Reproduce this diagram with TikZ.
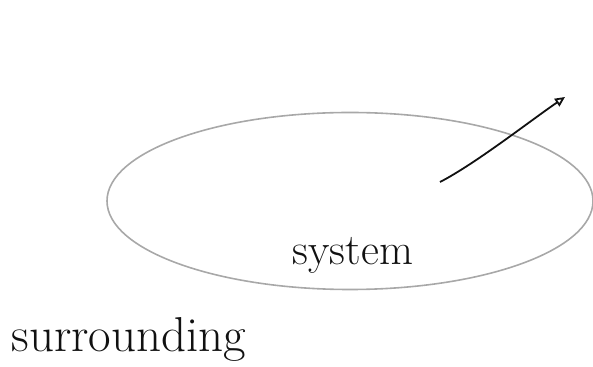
\documentclass[tikz,border=0pt]{standalone}
\usepackage{tikz}
\usetikzlibrary{arrows.meta,positioning,shapes.geometric}
\definecolor{skgray}{HTML}{A8A8A8}
\definecolor{skink}{HTML}{111111}

\begin{document}
\begin{tikzpicture}[x=1pt,y=1pt,
    hand/.style={skink,inner sep=0pt},
    bound/.style={ellipse,draw=skgray,line width=1.6pt,minimum width=486pt,minimum height=177pt,inner sep=0pt},
    flow/.style={skink,line width=1.8pt,-{Triangle[open,length=10pt,width=9pt]}}]
  \useasboundingbox (0,0) rectangle (593,366);
  \node[bound] (sys) at (350,165) {};
  \node[hand,font=\fontsize{44}{44}\selectfont] (systxt) at (353,111) {system};
  \node[hand,font=\fontsize{49}{49}\selectfont] (surr) at (129,27) {surrounding};
  \coordinate (out0) at (440,184);
  \coordinate (out1) at (565,269);
  \draw[flow] (out0) .. controls (475,202) and (530,245) .. (out1);
\end{tikzpicture}
\end{document}
